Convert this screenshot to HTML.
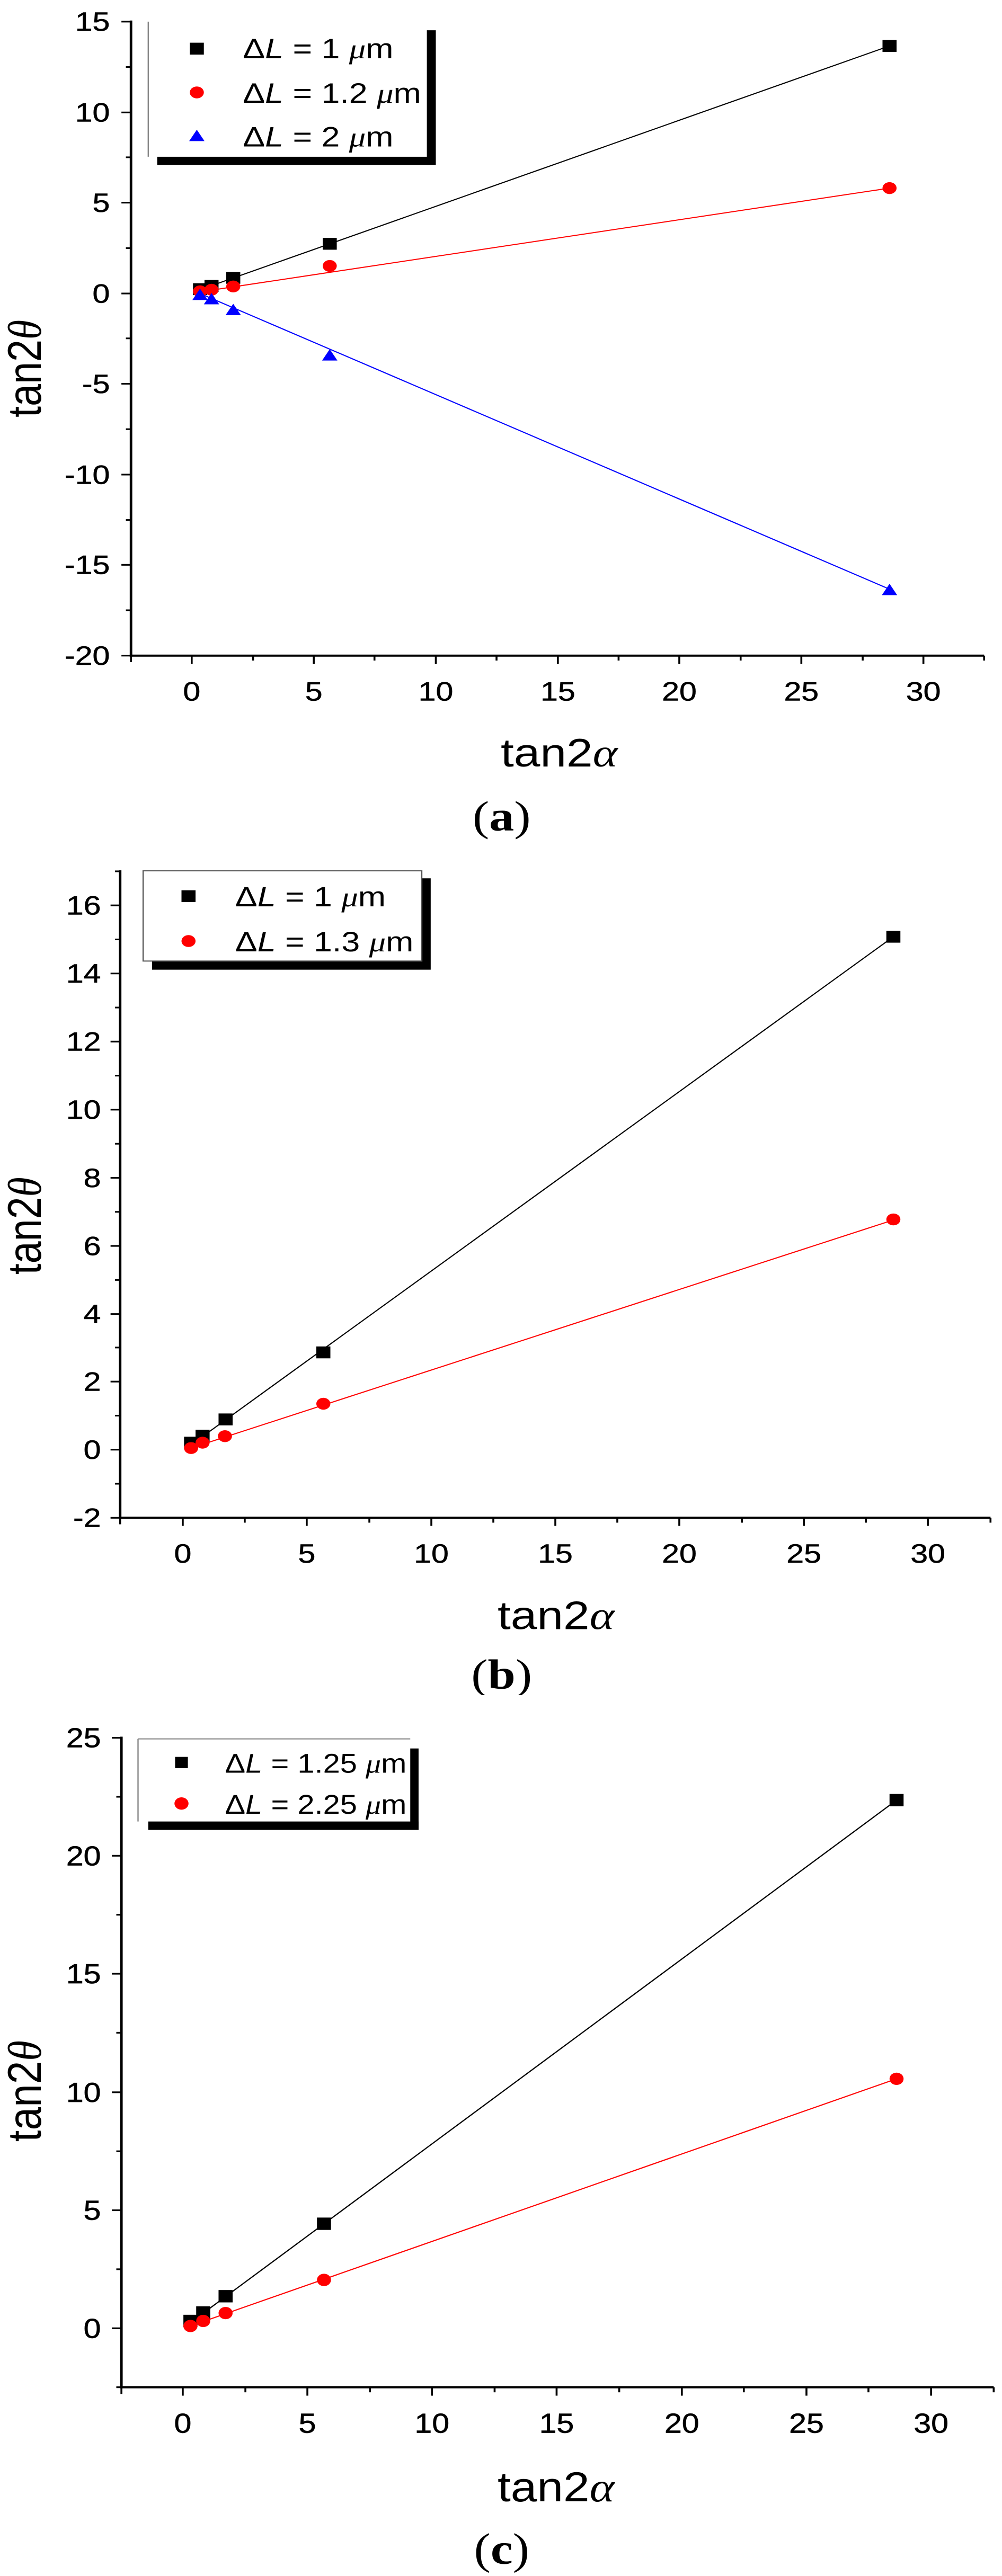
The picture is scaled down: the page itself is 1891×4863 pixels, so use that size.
<!DOCTYPE html>
<html><head><meta charset="utf-8"><style>
html,body{margin:0;padding:0;background:#fff;width:1891px;height:4863px;overflow:hidden;position:relative}
svg{position:absolute;left:0;display:block}
text{font-family:"Liberation Sans",sans-serif;fill:#000}
.t{font-size:49px;stroke:#000;stroke-width:0.6px}
.lab{font-size:74px}
.cap{font-family:"Liberation Serif",serif;font-size:78px}
.g{font-family:"Liberation Serif",serif;font-style:italic}
</style></head><body>

<!-- Chart A -->
<svg style="top:0" width="1891" height="1600" viewBox="0 0 1568 1568" preserveAspectRatio="none">
<g stroke="#000" stroke-width="4" fill="none">
<line x1="205" y1="38" x2="205" y2="1215"/>
<line x1="203" y1="1213" x2="1540" y2="1213"/>
</g>
<g stroke="#000" stroke-width="3">
<line x1="190" y1="40" x2="205" y2="40"/><line x1="197" y1="124" x2="205" y2="124"/>
<line x1="190" y1="208" x2="205" y2="208"/><line x1="197" y1="291" x2="205" y2="291"/>
<line x1="190" y1="375" x2="205" y2="375"/><line x1="197" y1="459" x2="205" y2="459"/>
<line x1="190" y1="543" x2="205" y2="543"/><line x1="197" y1="626" x2="205" y2="626"/>
<line x1="190" y1="710" x2="205" y2="710"/><line x1="197" y1="794" x2="205" y2="794"/>
<line x1="190" y1="878" x2="205" y2="878"/><line x1="197" y1="962" x2="205" y2="962"/>
<line x1="190" y1="1045" x2="205" y2="1045"/><line x1="197" y1="1129" x2="205" y2="1129"/>
<line x1="190" y1="1213" x2="205" y2="1213"/>
<line x1="205" y1="1213" x2="205" y2="1225"/>
<line x1="300" y1="1213" x2="300" y2="1228"/><line x1="396" y1="1213" x2="396" y2="1222"/>
<line x1="491" y1="1213" x2="491" y2="1228"/><line x1="586" y1="1213" x2="586" y2="1222"/>
<line x1="682" y1="1213" x2="682" y2="1228"/><line x1="777" y1="1213" x2="777" y2="1222"/>
<line x1="873" y1="1213" x2="873" y2="1228"/><line x1="968" y1="1213" x2="968" y2="1222"/>
<line x1="1063" y1="1213" x2="1063" y2="1228"/><line x1="1159" y1="1213" x2="1159" y2="1222"/>
<line x1="1254" y1="1213" x2="1254" y2="1228"/><line x1="1350" y1="1213" x2="1350" y2="1222"/>
<line x1="1445" y1="1213" x2="1445" y2="1228"/><line x1="1540" y1="1213" x2="1540" y2="1222"/>
</g>
<g class="t" text-anchor="end">
<text x="172" y="57">15</text><text x="172" y="225">10</text><text x="172" y="392">5</text>
<text x="172" y="560">0</text><text x="172" y="727">-5</text><text x="172" y="895">-10</text>
<text x="172" y="1062">-15</text><text x="172" y="1230">-20</text>
</g>
<g class="t" text-anchor="middle">
<text x="300" y="1296">0</text><text x="491" y="1296">5</text><text x="682" y="1296">10</text>
<text x="873" y="1296">15</text><text x="1063" y="1296">20</text><text x="1254" y="1296">25</text><text x="1445" y="1296">30</text>
</g>
<text class="lab" text-anchor="middle" x="875" y="1418">tan2<tspan class="g">α</tspan></text>
<text class="lab" text-anchor="middle" transform="translate(64,682) rotate(-90)">tan2<tspan class="g">θ</tspan></text>
<text class="cap" text-anchor="middle" x="785" y="1536">(<tspan font-weight="bold">a</tspan>)</text>
<polyline fill="none" stroke="#000" stroke-width="2" points="313,536 1392,85"/>
<polyline fill="none" stroke="#f00" stroke-width="2" points="313,540 1392,348"/>
<polyline fill="none" stroke="#00f" stroke-width="2" points="313,543 1392,1090"/>
<g fill="#000">
<rect x="302" y="524" width="22" height="22"/><rect x="320" y="518" width="22" height="22"/>
<rect x="354" y="503" width="22" height="22"/><rect x="505" y="440" width="22" height="22"/>
<rect x="1381" y="74" width="22" height="22"/>
</g>
<g fill="#f00">
<circle cx="313" cy="539" r="11"/><circle cx="331" cy="536" r="11"/><circle cx="365" cy="530" r="11"/>
<circle cx="516" cy="492" r="11"/><circle cx="1392" cy="348" r="11"/>
</g>
<g fill="#00f">
<polygon points="313,534 325,555 301,555"/><polygon points="331,542 343,563 319,563"/>
<polygon points="365,562 377,583 353,583"/><polygon points="516,646 528,667 504,667"/>
<polygon points="1392,1080 1404,1101 1380,1101"/>
</g>
<rect x="232" y="40" width="436" height="250" fill="#fff"/>
<line x1="232" y1="40" x2="232" y2="290" stroke="#888" stroke-width="2"/>
<rect x="668" y="56" width="14" height="249" fill="#000"/>
<rect x="246" y="290" width="436" height="15" fill="#000"/>
<rect x="297" y="79" width="22" height="22" fill="#000"/>
<circle cx="308" cy="171" r="11" fill="#f00"/>
<polygon points="308,240 320,261 296,261" fill="#00f"/>
<g style="font-size:52px">
<text x="380" y="108">Δ<tspan font-style="italic">L</tspan> = 1 <tspan class="g">μ</tspan>m</text>
<text x="380" y="190">Δ<tspan font-style="italic">L</tspan> = 1.2 <tspan class="g">μ</tspan>m</text>
<text x="380" y="271">Δ<tspan font-style="italic">L</tspan> = 2 <tspan class="g">μ</tspan>m</text>
</g>
</svg>

<!-- Chart B -->
<svg style="top:1600px" width="1891" height="1600" viewBox="0 0 1568 1568" preserveAspectRatio="none">
<g stroke="#000" stroke-width="4" fill="none">
<line x1="188" y1="42" x2="188" y2="1242"/>
<line x1="186" y1="1240" x2="1550" y2="1240"/>
</g>
<g stroke="#000" stroke-width="3">
<line x1="180" y1="44" x2="188" y2="44"/>
<line x1="173" y1="107" x2="188" y2="107"/><line x1="180" y1="170" x2="188" y2="170"/>
<line x1="173" y1="233" x2="188" y2="233"/><line x1="180" y1="296" x2="188" y2="296"/>
<line x1="173" y1="359" x2="188" y2="359"/><line x1="180" y1="422" x2="188" y2="422"/>
<line x1="173" y1="485" x2="188" y2="485"/><line x1="180" y1="548" x2="188" y2="548"/>
<line x1="173" y1="611" x2="188" y2="611"/><line x1="180" y1="674" x2="188" y2="674"/>
<line x1="173" y1="737" x2="188" y2="737"/><line x1="180" y1="800" x2="188" y2="800"/>
<line x1="173" y1="863" x2="188" y2="863"/><line x1="180" y1="925" x2="188" y2="925"/>
<line x1="173" y1="988" x2="188" y2="988"/><line x1="180" y1="1051" x2="188" y2="1051"/>
<line x1="173" y1="1114" x2="188" y2="1114"/><line x1="180" y1="1177" x2="188" y2="1177"/>
<line x1="173" y1="1240" x2="188" y2="1240"/>
<line x1="188" y1="1240" x2="188" y2="1252"/>
<line x1="286" y1="1240" x2="286" y2="1255"/><line x1="383" y1="1240" x2="383" y2="1249"/>
<line x1="480" y1="1240" x2="480" y2="1255"/><line x1="578" y1="1240" x2="578" y2="1249"/>
<line x1="675" y1="1240" x2="675" y2="1255"/><line x1="772" y1="1240" x2="772" y2="1249"/>
<line x1="869" y1="1240" x2="869" y2="1255"/><line x1="966" y1="1240" x2="966" y2="1249"/>
<line x1="1063" y1="1240" x2="1063" y2="1255"/><line x1="1161" y1="1240" x2="1161" y2="1249"/>
<line x1="1258" y1="1240" x2="1258" y2="1255"/><line x1="1355" y1="1240" x2="1355" y2="1249"/>
<line x1="1452" y1="1240" x2="1452" y2="1255"/><line x1="1550" y1="1240" x2="1550" y2="1249"/>
</g>
<g class="t" text-anchor="end">
<text x="158" y="124">16</text><text x="158" y="250">14</text><text x="158" y="376">12</text>
<text x="158" y="502">10</text><text x="158" y="628">8</text><text x="158" y="754">6</text>
<text x="158" y="880">4</text><text x="158" y="1005">2</text><text x="158" y="1131">0</text>
<text x="158" y="1257">-2</text>
</g>
<g class="t" text-anchor="middle">
<text x="286" y="1323">0</text><text x="480" y="1323">5</text><text x="675" y="1323">10</text>
<text x="869" y="1323">15</text><text x="1063" y="1323">20</text><text x="1258" y="1323">25</text><text x="1452" y="1323">30</text>
</g>
<text class="lab" text-anchor="middle" x="870" y="1446">tan2<tspan class="g">α</tspan></text>
<text class="lab" text-anchor="middle" transform="translate(64,700) rotate(-90)">tan2<tspan class="g">θ</tspan></text>
<text class="cap" text-anchor="middle" x="785" y="1556">(<tspan font-weight="bold">b</tspan>)</text>
<polyline fill="none" stroke="#000" stroke-width="2" points="299,1105 1398,165"/>
<polyline fill="none" stroke="#f00" stroke-width="2" points="299,1111 1398,689"/>
<g fill="#000">
<rect x="288" y="1090" width="22" height="22"/><rect x="306" y="1077" width="22" height="22"/>
<rect x="342" y="1047" width="22" height="22"/><rect x="495" y="923" width="22" height="22"/>
<rect x="1387" y="154" width="22" height="22"/>
</g>
<g fill="#f00">
<circle cx="299" cy="1111" r="11"/><circle cx="317" cy="1101" r="11"/><circle cx="352" cy="1089" r="11"/>
<circle cx="506" cy="1029" r="11"/><circle cx="1398" cy="688" r="11"/>
</g>
<rect x="238" y="57" width="436" height="169" fill="#000"/>
<rect x="224" y="43" width="436" height="167" fill="#fff" stroke="#555" stroke-width="2"/>
<rect x="284" y="79" width="22" height="22" fill="#000"/>
<circle cx="295" cy="173" r="11" fill="#f00"/>
<g style="font-size:52px">
<text x="368" y="109">Δ<tspan font-style="italic">L</tspan> = 1 <tspan class="g">μ</tspan>m</text>
<text x="368" y="192">Δ<tspan font-style="italic">L</tspan> = 1.3 <tspan class="g">μ</tspan>m</text>
</g>
</svg>

<!-- Chart C -->
<svg style="top:3200px" width="1891" height="1663" viewBox="0 0 1568 1568" preserveAspectRatio="none">
<g stroke="#000" stroke-width="4" fill="none">
<line x1="190" y1="74" x2="190" y2="1234"/>
<line x1="188" y1="1232" x2="1555" y2="1232"/>
</g>
<g stroke="#000" stroke-width="3">
<line x1="175" y1="76" x2="190" y2="76"/><line x1="182" y1="181" x2="190" y2="181"/>
<line x1="175" y1="286" x2="190" y2="286"/><line x1="182" y1="391" x2="190" y2="391"/>
<line x1="175" y1="496" x2="190" y2="496"/><line x1="182" y1="601" x2="190" y2="601"/>
<line x1="175" y1="707" x2="190" y2="707"/><line x1="182" y1="812" x2="190" y2="812"/>
<line x1="175" y1="917" x2="190" y2="917"/><line x1="182" y1="1022" x2="190" y2="1022"/>
<line x1="175" y1="1127" x2="190" y2="1127"/><line x1="182" y1="1232" x2="190" y2="1232"/>
<line x1="190" y1="1232" x2="190" y2="1244"/>
<line x1="286" y1="1232" x2="286" y2="1247"/><line x1="384" y1="1232" x2="384" y2="1241"/>
<line x1="481" y1="1232" x2="481" y2="1247"/><line x1="579" y1="1232" x2="579" y2="1241"/>
<line x1="676" y1="1232" x2="676" y2="1247"/><line x1="774" y1="1232" x2="774" y2="1241"/>
<line x1="871" y1="1232" x2="871" y2="1247"/><line x1="969" y1="1232" x2="969" y2="1241"/>
<line x1="1067" y1="1232" x2="1067" y2="1247"/><line x1="1164" y1="1232" x2="1164" y2="1241"/>
<line x1="1262" y1="1232" x2="1262" y2="1247"/><line x1="1359" y1="1232" x2="1359" y2="1241"/>
<line x1="1457" y1="1232" x2="1457" y2="1247"/><line x1="1555" y1="1232" x2="1555" y2="1241"/>
</g>
<g class="t" text-anchor="end">
<text x="158" y="93">25</text><text x="158" y="303">20</text><text x="158" y="513">15</text>
<text x="158" y="724">10</text><text x="158" y="934">5</text><text x="158" y="1144">0</text>
</g>
<g class="t" text-anchor="middle">
<text x="286" y="1313">0</text><text x="481" y="1313">5</text><text x="676" y="1313">10</text>
<text x="871" y="1313">15</text><text x="1067" y="1313">20</text><text x="1262" y="1313">25</text><text x="1457" y="1313">30</text>
</g>
<text class="lab" text-anchor="middle" x="870" y="1435">tan2<tspan class="g">α</tspan></text>
<text class="lab" text-anchor="middle" transform="translate(64,705) rotate(-90)">tan2<tspan class="g">θ</tspan></text>
<text class="cap" text-anchor="middle" x="785" y="1546">(<tspan font-weight="bold">c</tspan>)</text>
<polyline fill="none" stroke="#000" stroke-width="2" points="298,1117 1403,187"/>
<polyline fill="none" stroke="#f00" stroke-width="2" points="298,1123 1403,683"/>
<g fill="#000">
<rect x="287" y="1103" width="22" height="22"/><rect x="307" y="1088" width="22" height="22"/>
<rect x="342" y="1059" width="22" height="22"/><rect x="496" y="930" width="22" height="22"/>
<rect x="1392" y="176" width="22" height="22"/>
</g>
<g fill="#f00">
<circle cx="298" cy="1123" r="11"/><circle cx="318" cy="1114" r="11"/><circle cx="353" cy="1100" r="11"/>
<circle cx="507" cy="1041" r="11"/><circle cx="1403" cy="683" r="11"/>
</g>
<rect x="216" y="78" width="426" height="147" fill="#fff"/>
<line x1="216" y1="78" x2="216" y2="225" stroke="#888" stroke-width="2"/>
<line x1="216" y1="78" x2="642" y2="78" stroke="#888" stroke-width="2"/>
<rect x="642" y="95" width="13" height="145" fill="#000"/>
<rect x="232" y="225" width="423" height="15" fill="#000"/>
<rect x="274" y="110" width="20" height="20" fill="#000"/>
<circle cx="284" cy="193" r="11" fill="#f00"/>
<g style="font-size:48px">
<text x="352" y="138">Δ<tspan font-style="italic">L</tspan> = 1.25 <tspan class="g">μ</tspan>m</text>
<text x="352" y="211">Δ<tspan font-style="italic">L</tspan> = 2.25 <tspan class="g">μ</tspan>m</text>
</g>
</svg>
</body></html>
